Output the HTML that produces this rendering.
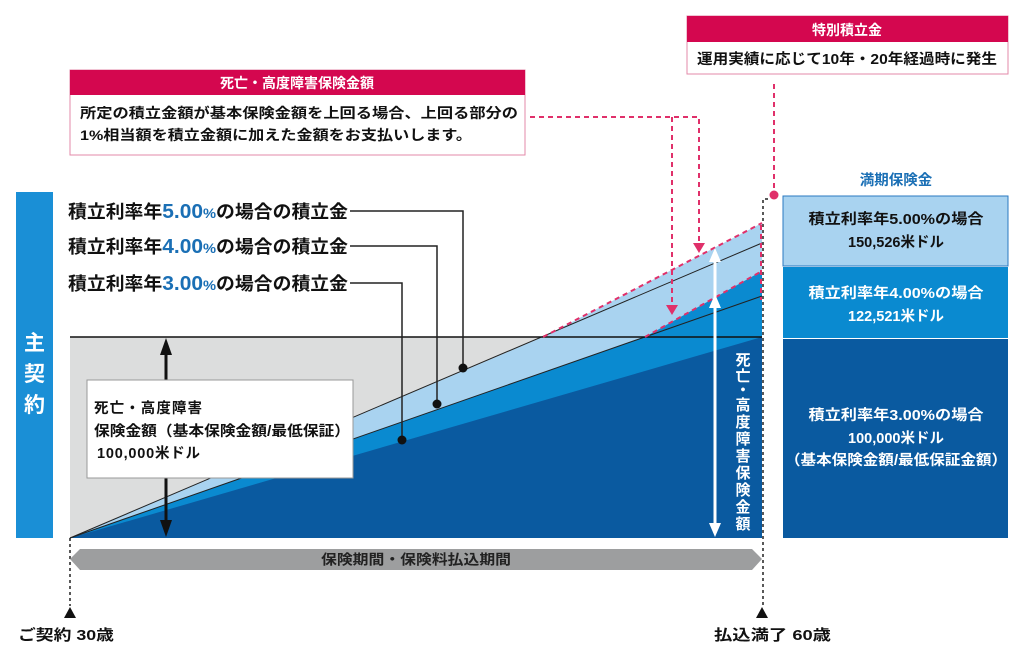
<!DOCTYPE html>
<html><head><meta charset="utf-8"><style>
body{margin:0;background:#fff;width:1024px;height:650px;overflow:hidden}
text{font-family:"Liberation Sans","Noto Sans CJK JP",sans-serif}
</style></head><body>
<svg width="1024" height="650" viewBox="0 0 1024 650" xmlns="http://www.w3.org/2000/svg">
<!-- left bar -->
<rect x="16" y="192" width="37" height="346" fill="#1a8fd6"/>
<text x="34.5" y="350" font-size="21" fill="#fff" text-anchor="middle" font-weight="bold">主</text>
<text x="34.5" y="381" font-size="21" fill="#fff" text-anchor="middle" font-weight="bold">契</text>
<text x="34.5" y="412" font-size="21" fill="#fff" text-anchor="middle" font-weight="bold">約</text>
<!-- gray bg -->
<rect x="70" y="337" width="692" height="201" fill="#dcdddd"/>
<polygon points="70,538 543,337 762,223 762,538" fill="#a9d3f0"/>
<polygon points="70,538 645,337 762,271 762,538" fill="#0a8ad0"/>
<polygon points="70,538 762,337 762,538" fill="#0a5aa0"/>
<line x1="70" y1="538" x2="762" y2="243" stroke="#222" stroke-width="1"/>
<line x1="70" y1="538" x2="762" y2="296" stroke="#222" stroke-width="1"/>
<line x1="70" y1="337" x2="762" y2="337" stroke="#111" stroke-width="1.6"/>
<line x1="543" y1="337" x2="762" y2="223" stroke="#e0306a" stroke-width="2" stroke-dasharray="5,4"/>
<line x1="645" y1="337" x2="762" y2="271" stroke="#e0306a" stroke-width="2" stroke-dasharray="5,4"/>
<line x1="761" y1="225" x2="761" y2="300" stroke="#e0306a" stroke-width="2" stroke-dasharray="5,4"/>
<line x1="70" y1="538" x2="70" y2="606" stroke="#222" stroke-width="1.5" stroke-dasharray="3,3"/>
<polyline points="768,199 763,199 763,606" fill="none" stroke="#222" stroke-width="1.5" stroke-dasharray="3,3"/>
<polygon points="70,607 64,618 76,618" fill="#111"/>
<polygon points="762,607 756,618 768,618" fill="#111"/>
<text x="18" y="640" font-size="15" fill="#111" font-weight="bold" textLength="96" lengthAdjust="spacingAndGlyphs">ご契約 30歳</text>
<text x="714" y="640" font-size="15" fill="#111" font-weight="bold" textLength="117" lengthAdjust="spacingAndGlyphs">払込満了 60歳</text>
<polygon points="70,559 80,549 752,549 762,559 752,570 80,570" fill="#9d9e9f"/>
<text x="416" y="564.5" font-size="14" fill="#222" text-anchor="middle" font-weight="bold" textLength="190" lengthAdjust="spacingAndGlyphs">保険期間・保険料払込期間</text>
<line x1="166" y1="350" x2="166" y2="525" stroke="#111" stroke-width="3"/>
<polygon points="166,338 160,355 172,355" fill="#111"/>
<polygon points="166,537 160,520 172,520" fill="#111"/>
<rect x="87" y="380" width="266" height="98" fill="#fff" stroke="#999" stroke-width="1"/>
<text x="94" y="413" font-size="14.5" fill="#111" font-weight="bold" textLength="108">死亡・高度障害</text>
<text x="94" y="436" font-size="14.5" fill="#111" font-weight="bold" textLength="256" lengthAdjust="spacingAndGlyphs">保険金額（基本保険金額/最低保証）</text>
<text x="97" y="458" font-size="14.5" fill="#111" font-weight="bold" textLength="103">100,000米ドル</text>
<g font-size="18" fill="#111" font-weight="bold">
<text x="68" y="218" textLength="280" lengthAdjust="spacingAndGlyphs">積立利率年<tspan fill="#1a6fb5" font-size="20">5.00</tspan><tspan fill="#1a6fb5" font-size="14">%</tspan>の場合の積立金</text>
<text x="68" y="253" textLength="280" lengthAdjust="spacingAndGlyphs">積立利率年<tspan fill="#1a6fb5" font-size="20">4.00</tspan><tspan fill="#1a6fb5" font-size="14">%</tspan>の場合の積立金</text>
<text x="68" y="290" textLength="280" lengthAdjust="spacingAndGlyphs">積立利率年<tspan fill="#1a6fb5" font-size="20">3.00</tspan><tspan fill="#1a6fb5" font-size="14">%</tspan>の場合の積立金</text>
</g>
<polyline points="350,211 463,211 463,368" fill="none" stroke="#222" stroke-width="1.5"/>
<polyline points="350,246 437,246 437,404" fill="none" stroke="#222" stroke-width="1.5"/>
<polyline points="350,283 402,283 402,440" fill="none" stroke="#222" stroke-width="1.5"/>
<circle cx="463" cy="368" r="4.5" fill="#111"/>
<circle cx="437" cy="404" r="4.5" fill="#111"/>
<circle cx="402" cy="440" r="4.5" fill="#111"/>
<line x1="715" y1="262" x2="715" y2="525" stroke="#fff" stroke-width="3"/>
<polygon points="715,248 709,262 721,262" fill="#fff"/>
<polygon points="715,294 709,308 721,308" fill="#fff"/>
<polygon points="715,537 709,523 721,523" fill="#fff"/>
<g font-size="15" fill="#fff" text-anchor="middle" font-weight="bold">
<text x="743" y="365">死</text><text x="743" y="381">亡</text><text x="743" y="395">・</text><text x="743" y="410">高</text><text x="743" y="427">度</text><text x="743" y="444">障</text><text x="743" y="461">害</text><text x="743" y="478">保</text><text x="743" y="495">険</text><text x="743" y="512">金</text><text x="743" y="529">額</text>
</g>
<rect x="70" y="70" width="455" height="85" fill="#fff" stroke="#e38aa8" stroke-width="1"/>
<rect x="70" y="70" width="455" height="25" fill="#d4074f"/>
<text x="297" y="88" font-size="14" fill="#fff" text-anchor="middle" font-weight="bold">死亡・高度障害保険金額</text>
<text x="80" y="118" font-size="14" fill="#111" font-weight="bold" textLength="438" lengthAdjust="spacingAndGlyphs">所定の積立金額が基本保険金額を上回る場合、上回る部分の</text>
<text x="80" y="140" font-size="14" fill="#111" font-weight="bold" textLength="392" lengthAdjust="spacingAndGlyphs">1%相当額を積立金額に加えた金額をお支払いします。</text>
<polyline points="530,117 699,117 699,243" fill="none" stroke="#e0306a" stroke-width="2" stroke-dasharray="5,4"/>
<line x1="672" y1="117" x2="672" y2="305" stroke="#e0306a" stroke-width="2" stroke-dasharray="5,4"/>
<polygon points="699,253 693,243 705,243" fill="#e0306a"/>
<polygon points="672,315 666,305 678,305" fill="#e0306a"/>
<rect x="687" y="16" width="321" height="58" fill="#fff" stroke="#e38aa8" stroke-width="1"/>
<rect x="687" y="16" width="321" height="26" fill="#d4074f"/>
<text x="847" y="35" font-size="14" fill="#fff" text-anchor="middle" font-weight="bold">特別積立金</text>
<text x="847" y="64" font-size="14.5" fill="#111" text-anchor="middle" font-weight="bold" textLength="300" lengthAdjust="spacingAndGlyphs">運用実績に応じて10年・20年経過時に発生</text>
<line x1="774" y1="84" x2="774" y2="192" stroke="#e0306a" stroke-width="2" stroke-dasharray="5,4"/>
<circle cx="774" cy="195" r="4.5" fill="#e0306a"/>
<text x="896" y="185" font-size="14.5" fill="#1a6fb5" text-anchor="middle" font-weight="bold">満期保険金</text>
<rect x="783" y="196" width="225" height="70" fill="#a9d3f0" stroke="#2a78c0" stroke-width="1"/>
<rect x="783" y="267" width="225" height="71" fill="#0a8ad0"/>
<rect x="783" y="339" width="225" height="199" fill="#0a5aa0"/>
<g font-size="14.5" text-anchor="middle" font-weight="bold">
<text x="896" y="224" fill="#111" textLength="175" lengthAdjust="spacingAndGlyphs">積立利率年5.00%の場合</text>
<text x="896" y="247" fill="#111">150,526米ドル</text>
<text x="896" y="298" fill="#fff" textLength="175" lengthAdjust="spacingAndGlyphs">積立利率年4.00%の場合</text>
<text x="896" y="321" fill="#fff">122,521米ドル</text>
<text x="896" y="420" fill="#fff" textLength="175" lengthAdjust="spacingAndGlyphs">積立利率年3.00%の場合</text>
<text x="896" y="443" fill="#fff">100,000米ドル</text>
<text x="896" y="465" fill="#fff" textLength="222" lengthAdjust="spacingAndGlyphs">（基本保険金額/最低保証金額）</text>
</g>
</svg>
</body></html>
